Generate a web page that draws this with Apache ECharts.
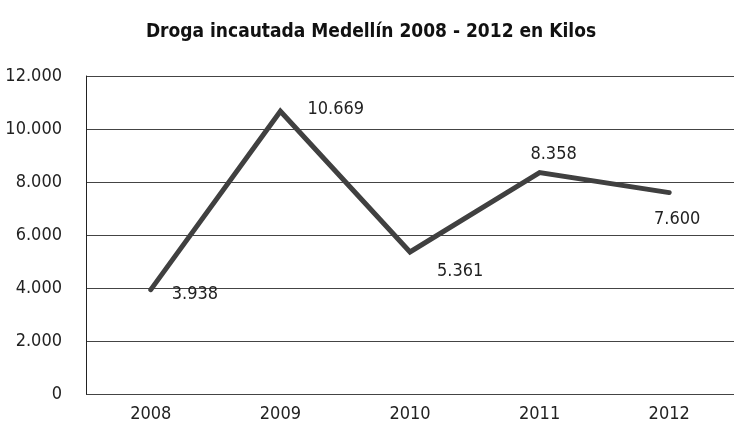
<!DOCTYPE html>
<html>
<head>
<meta charset="utf-8">
<style>
  html, body { margin: 0; padding: 0; background: #fff; }
  #chart { width: 742px; height: 429px; }
</style>
<script src="https://cdn.jsdelivr.net/npm/echarts@6/dist/echarts.min.js"></script>
</head>
<body>
<div id="chart"></div>
<script>
const years = ['2008', '2009', '2010', '2011', '2012']
const kilos = [3938, 10669, 5361, 8358, 7600]
const labelPos = ['right', 'right', 'right', 'top', 'bottom']
const labelOffset = [[8, 5], [14, -2], [14, 19], [14, 4], [8, 5]]

const fontFam = "'Liberation Sans Narrow', 'DejaVu Sans Condensed', sans-serif"

// 10669 -> "10.669"
function fmt(v) {
  return String(v).replace(/\B(?=(\d{3})+(?!\d))/g, '.')
}

const chart = echarts.init(document.getElementById('chart'))
chart.setOption({
  animation: false,
  title: {
    text: 'Droga incautada Medellín 2008 - 2012 en Kilos',
    left: 'center',
    top: 18,
    textStyle: {
      fontFamily: fontFam,
      fontWeight: 'bold',
      fontSize: 19,
      color: '#111',
    },
  },
  grid: {
    left: 86,
    right: 8,
    top: 76,
    bottom: 35,
  },
  xAxis: {
    type: 'category',
    data: years,
    boundaryGap: true,
    axisLine: {show: false},
    axisTick: {show: false},
    axisLabel: {
      fontFamily: fontFam,
      fontSize: 18,
      color: '#222',
      margin: 11,
    },
  },
  yAxis: {
    type: 'value',
    min: 0,
    max: 12000,
    interval: 2000,
    axisLine: {show: true, lineStyle: {color: '#222', width: 1}},
    axisTick: {show: false},
    splitLine: {lineStyle: {color: '#444', width: 1}},
    axisLabel: {
      fontFamily: fontFam,
      fontSize: 18,
      color: '#222',
      margin: 24,
      formatter: fmt,
    },
  },
  series: [
    {
      type: 'line',
      data: kilos.map((v, i) => ({
        value: v,
        label: {position: labelPos[i], offset: labelOffset[i]},
      })),
      symbol: 'circle',
      symbolSize: 2,
      showSymbol: true,
      itemStyle: {color: 'rgba(0,0,0,0)'},
      lineStyle: {color: '#404040', width: 5, cap: 'round', join: 'miter'},
      label: {
        show: true,
        fontFamily: fontFam,
        fontSize: 18,
        color: '#222',
        distance: 12,
        formatter: p => fmt(p.value),
      },
    },
  ],
})
</script>
</body>
</html>
